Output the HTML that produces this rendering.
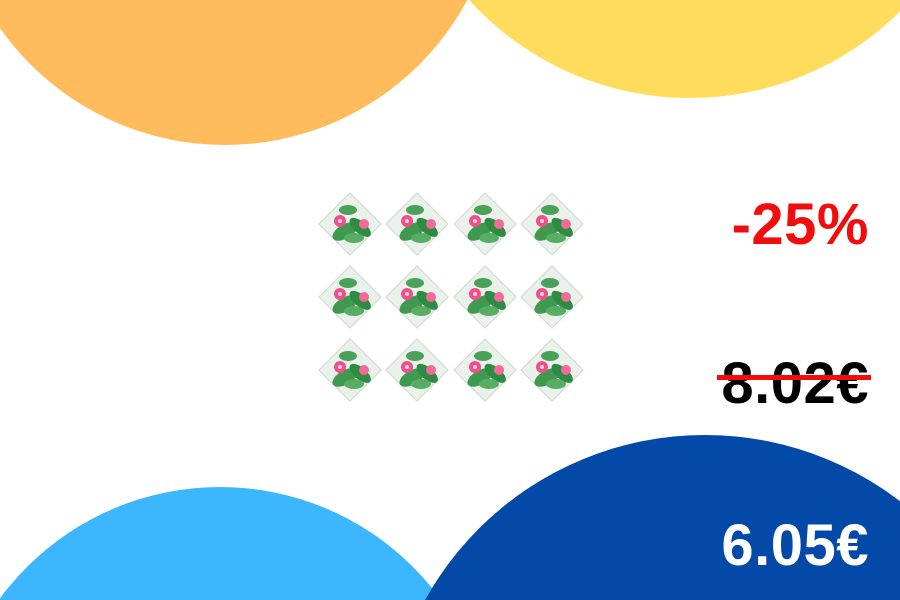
<!DOCTYPE html>
<html><head><meta charset="utf-8"><style>
html,body{margin:0;padding:0;width:900px;height:600px;overflow:hidden;background:#fff}
#wrap{position:relative;width:900px;height:600px;overflow:hidden;font-family:"Liberation Sans",sans-serif}
.t{position:absolute;right:31px;font-weight:bold;font-size:58px;letter-spacing:0.5px;line-height:1}
</style></head><body>
<div id="wrap">
<svg width="900" height="600" style="position:absolute;left:0;top:0">
<circle cx="225" cy="-130" r="275" fill="#ffbb5c"/>
<circle cx="690" cy="-200" r="298" fill="#ffdc5c"/>
<circle cx="220" cy="760" r="273" fill="#3bb6ff"/>
<circle cx="705" cy="755" r="320" fill="#034aa8"/>
</svg>

<svg width="900" height="600" style="position:absolute;left:0;top:0">
<defs>
<g id="nap">
<rect x="-22" y="-22" width="44" height="44" transform="rotate(45)" fill="#e9f1ea" stroke="#cfd9cf"/>
<ellipse cx="-8" cy="4" rx="14" ry="7" fill="#3f9a4f" transform="rotate(-30)"/>
<ellipse cx="10" cy="-4" rx="13" ry="6" fill="#2f8a44" transform="rotate(40)"/>
<ellipse cx="4" cy="14" rx="10" ry="5" fill="#57ad63"/>
<ellipse cx="-2" cy="-14" rx="9" ry="5" fill="#4aa25a"/>
<circle cx="-10" cy="-3" r="6" fill="#f0508a"/>
<circle cx="14" cy="0" r="5" fill="#f06a9a"/>
<circle cx="-10" cy="-3" r="2" fill="#ffd0e0"/>
</g>
</defs>
<g id="grid"></g>
</svg>

<div class="t" style="top:196px;color:#f00d0d">-25%</div>
<div class="t" style="top:355px;color:#000">8.02€<div style="position:absolute;left:-4px;right:-2px;top:20px;height:5px;background:#f00d0d"></div></div>
<div class="t" style="top:517px;color:#fff">6.05€</div>
</div>
<script>
const xs=[350,417,485,552], ys=[224,297,370];
const g=document.getElementById('grid');
ys.forEach(y=>xs.forEach(x=>{
 const u=document.createElementNS('http://www.w3.org/2000/svg','use');
 u.setAttribute('href','#nap');
 u.setAttribute('transform',`translate(${x},${y})`);
 
 
 g.appendChild(u);
}));
</script>
</body></html>
